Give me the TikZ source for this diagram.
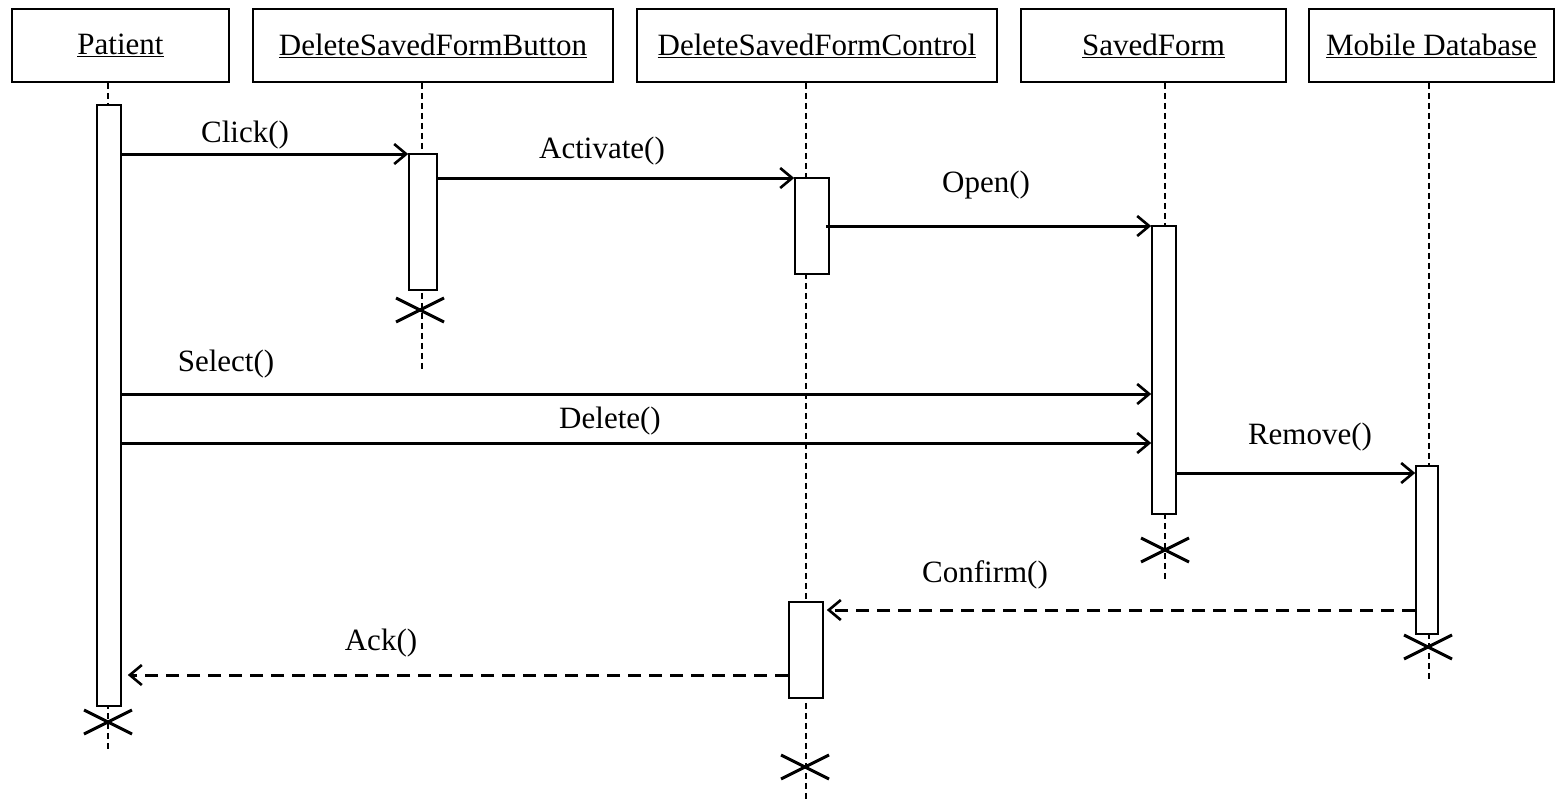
\documentclass[tikz,border=0pt]{standalone}
\usepackage{fontspec}
\setmainfont{Liberation Serif}
\usetikzlibrary{arrows.meta}
\begin{document}
\begin{tikzpicture}[x=1pt,y=-1pt,
  head/.style={draw,line width=1.7pt,minimum height=73pt,inner sep=0pt,font=\fontsize{31}{36}\selectfont},
  actbar/.style={draw,line width=1.6pt,fill=white,inner sep=0pt},
  life/.style={line width=1.3pt,dash pattern=on 6pt off 4pt},
  msg/.style={line width=3pt,-{Straight Barb[length=12pt,width=20pt,line width=2.6pt]}},
  ret/.style={msg,dash pattern=on 13pt off 8pt},
  lbl/.style={font=\fontsize{31}{36}\selectfont,inner sep=0pt},
  kill/.style={line width=3pt}]
\useasboundingbox[fill=white] (0,0) rectangle (1562,804);

% heads
\node[head,minimum width=217pt] (hP) at (120.5,45.5) {\underline{Patient}};
\node[head,minimum width=360pt] (hB) at (433,45.5) {\underline{DeleteSavedFormButton}};
\node[head,minimum width=360pt] (hC) at (817,45.5) {\underline{DeleteSavedFormControl}};
\node[head,minimum width=265pt] (hS) at (1153.5,45.5) {\underline{SavedForm}};
\node[head,minimum width=245pt] (hM) at (1431.5,45.5) {\underline{Mobile Database}};

% lifeline ends
\coordinate (eP) at (108,750);
\coordinate (eB) at (422,370);
\coordinate (eC) at (806,800);
\coordinate (eS) at (1165,580);
\coordinate (eM) at (1429,680);
\draw[life] (hP.south -| eP) -- (eP);
\draw[life] (hB.south -| eB) -- (eB);
\draw[life] (hC.south -| eC) -- (eC);
\draw[life] (hS.south -| eS) -- (eS);
\draw[life] (hM.south -| eM) -- (eM);

% activation bars
\node[actbar,minimum width=24pt,minimum height=601pt] (bP) at (109,405.5) {};
\node[actbar,minimum width=28pt,minimum height=136pt] (bB) at (423,222) {};
\node[actbar,minimum width=34pt,minimum height=96pt] (bC1) at (812,226) {};
\node[actbar,minimum width=34pt,minimum height=96pt] (bC2) at (806,650) {};
\node[actbar,minimum width=24pt,minimum height=288pt] (bS) at (1164,370) {};
\node[actbar,minimum width=22pt,minimum height=168pt] (bM) at (1427,550) {};

% destruction marks
\coordinate (xP) at (108,722);
\coordinate (xB) at (420,310);
\coordinate (xC) at (805,767);
\coordinate (xS) at (1165,550);
\coordinate (xM) at (1428,647);
\foreach \c in {xP,xB,xC,xS,xM}{
  \draw[kill] (\c) +(-24,-12) -- +(24,12);
  \draw[kill] (\c) +(-24,12) -- +(24,-12);
}

% message rows
\coordinate (m1) at (0,154);
\coordinate (m2) at (0,178);
\coordinate (m3) at (0,226);
\coordinate (m4) at (0,394);
\coordinate (m5) at (0,443);
\coordinate (m6) at (0,473);
\coordinate (m7) at (0,610);
\coordinate (m8) at (0,675);

\draw[msg] (bP.east |- m1) -- (bB.west |- m1);
\draw[msg] (bB.east |- m2) -- (bC1.west |- m2);
\draw[msg] ([xshift=-4pt]bC1.east |- m3) -- (bS.west |- m3);
\draw[msg] (bP.east |- m4) -- (bS.west |- m4);
\draw[msg] (bP.east |- m5) -- (bS.west |- m5);
\draw[msg] (bS.east |- m6) -- (bM.west |- m6);
\draw[ret] (bM.west |- m7) -- ([xshift=3pt]bC2.east |- m7);
\draw[ret] (bC2.west |- m8) -- ([xshift=6pt]bP.east |- m8);

% labels
\node[lbl] (l1) at (245,135) {Click()};
\node[lbl] (l2) at (602,151) {Activate()};
\node[lbl] (l3) at (986,185) {Open()};
\node[lbl] (l4) at (226,364) {Select()};
\node[lbl] (l5) at (610,421) {Delete()};
\node[lbl] (l6) at (1310,437) {Remove()};
\node[lbl] (l7) at (985,575) {Confirm()};
\node[lbl] (l8) at (381,643) {Ack()};
\end{tikzpicture}
\end{document}
